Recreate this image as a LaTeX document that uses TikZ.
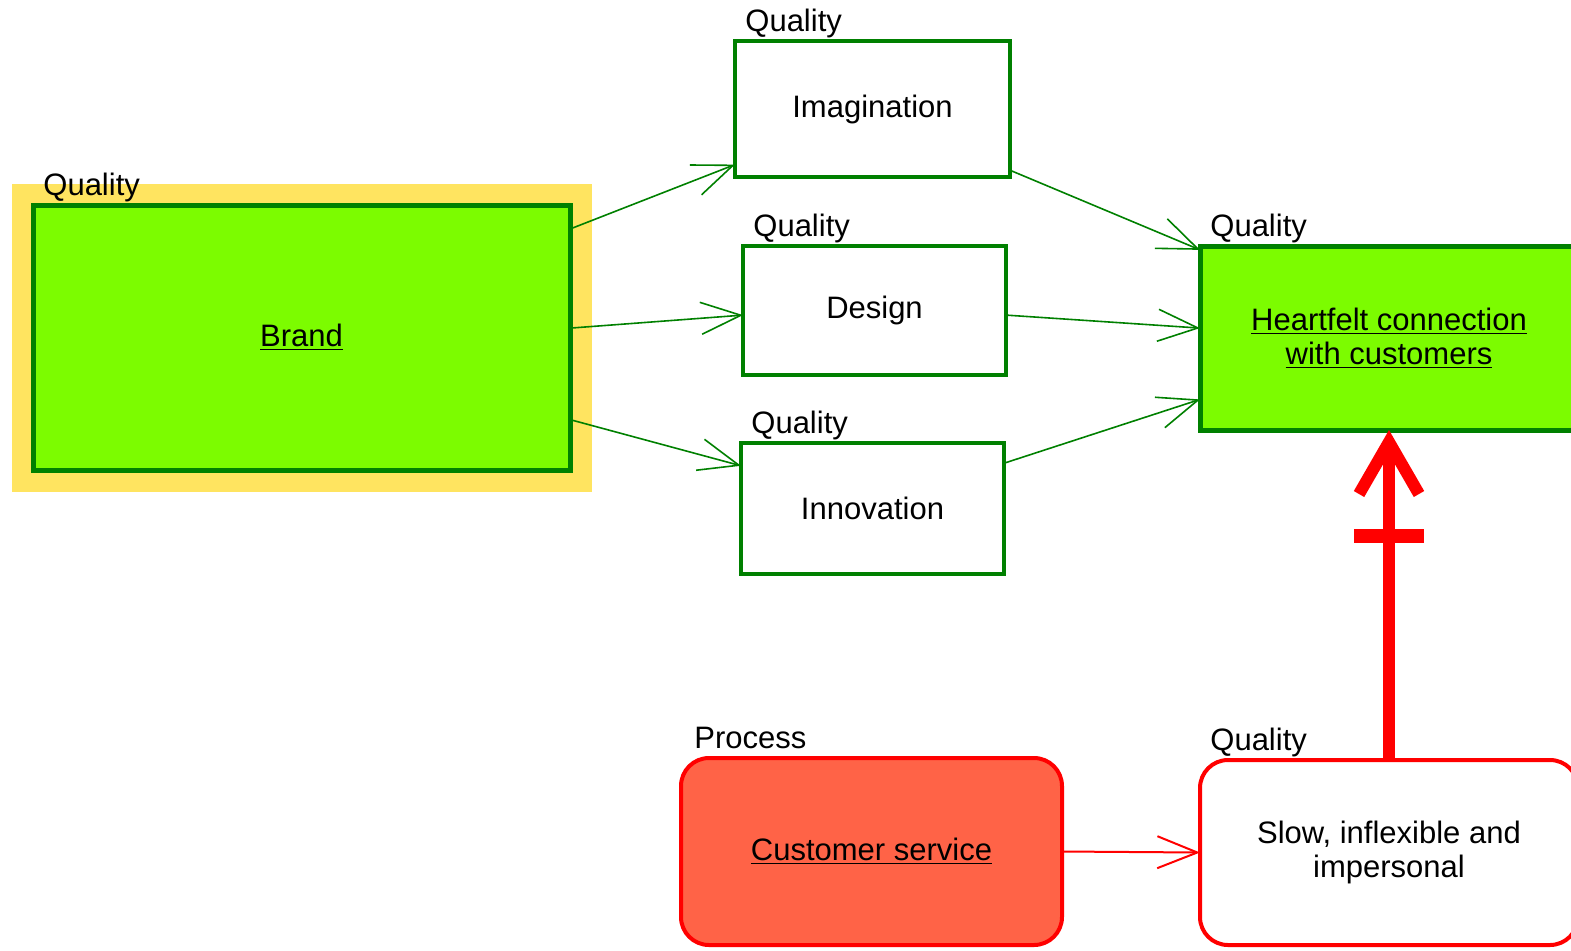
\documentclass[tikz,border=0pt]{standalone}
\usepackage{fontspec}
\setmainfont{Liberation Sans}
\usetikzlibrary{calc,arrows.meta}
\definecolor{leafgreen}{RGB}{0,128,0}
\definecolor{lawngreen}{RGB}{124,252,0}
\definecolor{tomato}{RGB}{255,99,71}
\definecolor{glowyellow}{RGB}{255,228,96}

\tikzset{
    box/.style={draw=leafgreen, fill=white, line width=2pt, inner sep=0pt, outer sep=0pt, align=center},
    keybox/.style={box, fill=lawngreen, line width=2.5pt},
    procbox/.style={draw=red, fill=white, line width=2pt, rounded corners=14pt, inner sep=0pt, outer sep=0pt, align=center},
    tag/.style={anchor=base west, inner sep=0pt},
    link/.style={draw=leafgreen, line width=0.8pt, -{Straight Barb[length=20pt,width=16pt]}},
    redlink/.style={draw=red, line width=1pt, -{Straight Barb[length=20pt,width=16pt]}},
    alarm/.style={draw=red, line width=6pt, -{Straight Barb[length=26pt,width=30pt]}},
}

\begin{document}
\begin{tikzpicture}[x=0.5pt, y=-0.5pt, font=\fontsize{15.5pt}{17pt}\selectfont]
    \path[use as bounding box, clip] (0,0) rectangle (1571,950);

    %% quality boxes
    \node[keybox, preaction={draw=glowyellow, line width=21.5pt}, minimum width=268.5pt, minimum height=132.5pt] (brand) at (301.5,337.5) {\underline{Brand}};
    \node[box, minimum width=137.5pt, minimum height=68pt] (imag) at (872.5,109) {Imagination};
    \node[box, minimum width=131.5pt, minimum height=64.5pt] (design) at (874.5,310.5) {Design};
    \node[box, minimum width=131.5pt, minimum height=65.5pt] (innov) at (872.5,508.5) {Innovation};
    \node[keybox, minimum width=189pt, minimum height=92pt] (heart) at (1389,338) {\underline{Heartfelt connection}\\\underline{with customers}};

    %% process and its outcome
    \node[procbox, fill=tomato, minimum width=190.5pt, minimum height=93.5pt] (service) at (871.5,851.5) {\underline{Customer service}};
    \node[procbox, minimum width=189pt, minimum height=92.5pt] (slow) at (1389,852.5) {Slow, inflexible and\\impersonal};

    %% tags
    \foreach \n in {brand,imag,design,innov,heart,slow} {
        \node[tag] (\n tag) at ($(\n.north west)+(10,-10)$) {Quality};
    }
    \node[tag] (servicetag) at ($(service.north west)+(13,-10)$) {Process};

    %% links
    \draw[link] (brand.22.2) -- (imag.202.9);
    \draw[link] (brand.2.9) -- (design.182.8);
    \draw[link] (brand.-17.3) -- (innov.162.9);
    \draw[link] (imag.-24.6) -- (heart.155.5);
    \draw[link] (design.-2.8) -- (heart.177);
    \draw[link] (innov.19.1) -- (heart.198.7);
    \draw[redlink] (service.east) -- (slow.west);

    \draw[alarm] (slow.north) -- (heart.south) coordinate[pos=0.68] (cut);
    \draw[draw=red, line width=7pt] ($(cut)+(-35,0)$) -- ($(cut)+(35,0)$);
\end{tikzpicture}
\end{document}
